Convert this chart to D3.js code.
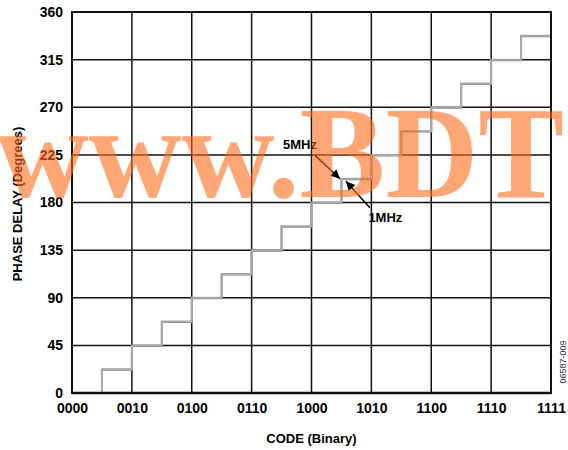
<!DOCTYPE html>
<html>
<head>
<meta charset="utf-8">
<script src="https://cdn.jsdelivr.net/npm/d3@7"></script>
<style>
  body { margin: 0; background: #fff; }
  text { font-family: 'Liberation Sans', Arial, sans-serif; }
</style>
</head>
<body>
<div id="chart"></div>
<script>
// codes 0..15, plus the right edge (16)
const codes = d3.range(0, 17)
const phase1MHz = [0, 22.5, 45, 67.5, 90, 112.5, 135, 157.5, 180, 202.5, 225, 247.5, 270, 292.5, 315, 337.5, 337.5]
const phase5MHz = [0, 22, 44.5, 67, 89.5, 112, 134.5, 157, 179.5, 202, 224.5, 247, 269.5, 292, 314.5, 337, 337]
const xTickValues = [0, 2, 4, 6, 8, 10, 12, 14, 16]
const xTickLabels = ['0000', '0010', '0100', '0110', '1000', '1010', '1100', '1110', '1111']
const yTickValues = [0, 45, 90, 135, 180, 225, 270, 315, 360]

const width = 568, height = 450
const margin = {top: 12, right: 17, bottom: 57, left: 72}
const w = width - margin.left - margin.right,
  h = height - margin.top - margin.bottom

const svg = d3.select('#chart').append('svg')
  .attr('width', width)
  .attr('height', height)

const x = d3.scaleLinear().domain([0, 16]).range([0, w])
const y = d3.scaleLinear().domain([0, 360]).range([h, 0])

const g = svg.append('g')
  .attr('transform', `translate(${margin.left}, ${margin.top})`)

// grid
g.append('g').selectAll('line').data(xTickValues)
  .enter().append('line')
  .attr('x1', d => x(d)).attr('x2', d => x(d))
  .attr('y1', 0).attr('y2', h)
  .attr('stroke', '#111').attr('stroke-width', 1.5)
g.append('g').selectAll('line').data(yTickValues)
  .enter().append('line')
  .attr('x1', 0).attr('x2', w)
  .attr('y1', d => y(d)).attr('y2', d => y(d))
  .attr('stroke', '#111').attr('stroke-width', 1.5)

// step curves
const line = arr => d3.line()
  .x((d, i) => x(codes[i]))
  .y(d => y(d))
  .curve(d3.curveStepAfter)(arr)

g.append('path').attr('d', line(phase5MHz))
  .attr('fill', 'none').attr('stroke', '#8a8a8a').attr('stroke-width', 2)
g.append('path').attr('d', line(phase1MHz))
  .attr('fill', 'none').attr('stroke', '#a8a8a8').attr('stroke-width', 2)

// frame
g.append('rect').attr('width', w).attr('height', h)
  .attr('fill', 'none').attr('stroke', '#111').attr('stroke-width', 2)
g.append('line').attr('x1', 0).attr('x2', w).attr('y1', h).attr('y2', h)
  .attr('stroke', '#111').attr('stroke-width', 2.5)

// axes (labels only)
const xAxis = d3.axisBottom(x).tickValues(xTickValues)
  .tickFormat((d, i) => xTickLabels[i]).tickSize(0).tickPadding(10)
const yAxis = d3.axisLeft(y).tickValues(yTickValues).tickSize(0).tickPadding(9)

g.append('g').attr('transform', `translate(0, ${h})`).call(xAxis)
  .call(s => s.select('.domain').remove())
  .selectAll('text')
  .style('font-family', "'Liberation Sans', Arial, sans-serif")
  .style('font-size', '14px').style('font-weight', 'bold').attr('fill', '#000')
g.append('g').call(yAxis)
  .call(s => s.select('.domain').remove())
  .selectAll('text')
  .style('font-family', "'Liberation Sans', Arial, sans-serif")
  .style('font-size', '14px').style('font-weight', 'bold').attr('fill', '#000')

svg.append('text')
  .attr('x', margin.left + w / 2).attr('y', 443)
  .attr('text-anchor', 'middle')
  .style('font-size', '13px').style('font-weight', 'bold')
  .text('CODE (Binary)')

svg.append('text')
  .attr('transform', 'translate(22, 204) rotate(-90)')
  .attr('text-anchor', 'middle')
  .style('font-size', '13px').style('font-weight', 'bold')
  .text('PHASE DELAY (Degrees)')

svg.append('text')
  .attr('transform', 'translate(566, 362) rotate(-90)')
  .attr('text-anchor', 'middle')
  .style('font-size', '9px').attr('fill', '#333')
  .text('06587-009')

// arrows
const defs = svg.append('defs')
defs.append('marker').attr('id', 'arr')
  .attr('viewBox', '0 0 10 10').attr('refX', 10).attr('refY', 5)
  .attr('markerWidth', 13).attr('markerHeight', 9).attr('markerUnits', 'userSpaceOnUse')
  .attr('orient', 'auto')
  .append('path').attr('d', 'M0,0 L10,5 L0,10 Z').attr('fill', '#000')

const ann = [
  {label: '5MHz', from: [8.1, 225], to: [8.95, 202.5], tx: 7.05, ty: 231},
  {label: '1MHz', from: [9.95, 175], to: [9.15, 200], tx: 9.9, ty: 161.5}
]
g.selectAll('.arrow').data(ann).enter().append('line')
  .attr('x1', d => x(d.from[0])).attr('y1', d => y(d.from[1]))
  .attr('x2', d => x(d.to[0])).attr('y2', d => y(d.to[1]))
  .attr('stroke', '#000').attr('stroke-width', 1.5)
  .attr('marker-end', 'url(#arr)')
g.selectAll('.ann').data(ann).enter().append('text')
  .attr('x', d => x(d.tx)).attr('y', d => y(d.ty))
  .style('font-size', '13px').style('font-weight', 'bold')
  .text(d => d.label)

// watermark
svg.append('text')
  .attr('x', -4).attr('y', 197)
  .attr('textLength', 568).attr('lengthAdjust', 'spacingAndGlyphs')
  .style('font-family', "'Liberation Serif', 'Times New Roman', serif")
  .style('font-size', '132px').style('font-weight', 'bold')
  .attr('fill', '#ff6a1a').attr('fill-opacity', 0.6)
  .text('www.BDT')
</script>
</body>
</html>
